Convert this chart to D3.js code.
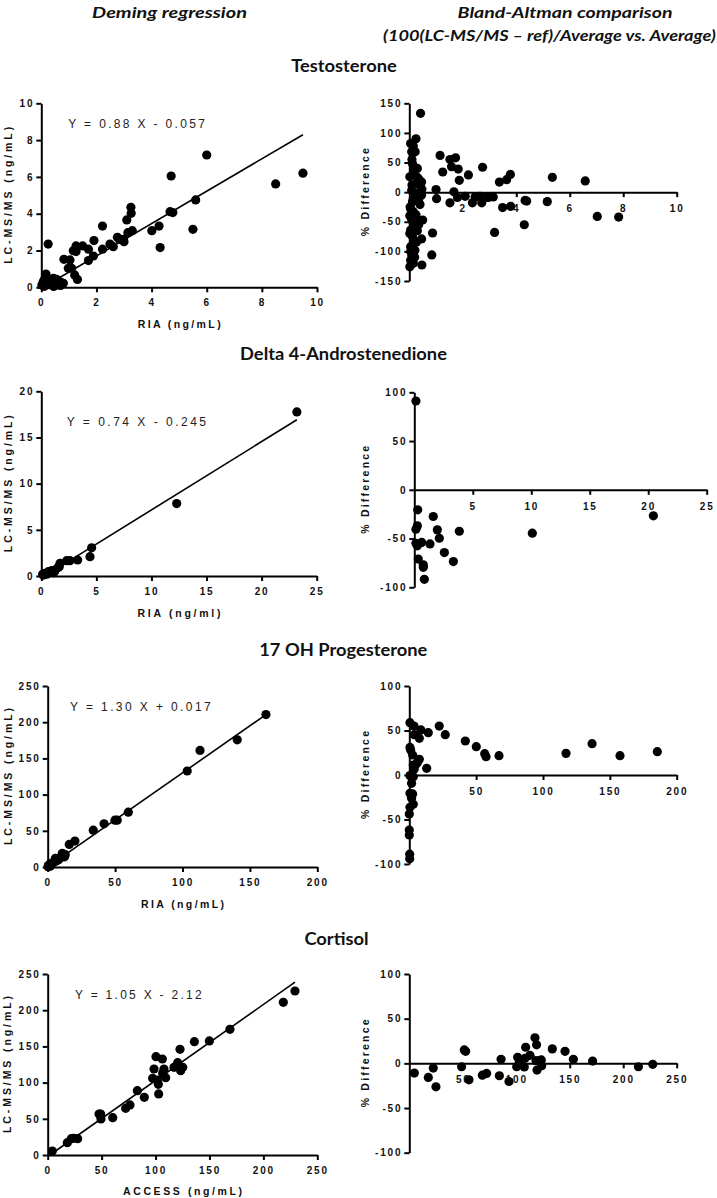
<!DOCTYPE html>
<html><head><meta charset="utf-8">
<script src="https://cdn.jsdelivr.net/npm/d3@7"></script>
<style>
body{margin:0;background:#fff}
svg{display:block}
.tick text{font-family:"Liberation Sans",Arial,sans-serif;font-weight:bold;font-size:10px;letter-spacing:1.8px;fill:#111}
.axlab{font-family:"Liberation Sans",Arial,sans-serif;font-weight:bold;font-size:10.5px;fill:#111}
.eq{font-family:"Liberation Sans",Arial,sans-serif;font-size:12px;fill:#222}
.title{font-family:Lato,"Open Sans",sans-serif;font-weight:bold;font-size:17px;fill:#111}
.head{font-family:Lato,"Open Sans",sans-serif;font-weight:bold;font-style:italic;font-size:16px;fill:#111}
</style></head><body>
<svg id="c" width="717" height="1198"></svg>
<script>
// ---------- DATA ----------
const testoDeming = [[0.25,2.35],[0.82,1.52],[1.04,1.49],[1.16,1.99],[1.26,2.25],[1.26,1.94],[1.5,2.25],[1.71,2.07],[1.71,1.45],[1.91,2.54],[1.89,1.70],[2.22,3.33],[2.22,2.07],[2.49,2.35],[2.61,2.21],[2.76,2.72],[2.83,2.61],[2.98,2.61],[3.0,2.48],[3.1,3.66],[3.14,2.97],[3.25,4.35],[3.26,4.02],[3.3,3.08],[4.01,3.08],[4.27,3.33],[4.31,2.16],[4.67,4.11],[4.71,6.05],[4.77,4.06],[5.5,3.15],[5.6,4.75],[6.0,7.19],[8.5,5.62],[9.49,6.2],[0.98,1.03],[1.1,1.03],[1.21,0.67],[1.31,0.43],[0.17,0.72],[0.07,0.3],[0.3,0.3],[0.44,0.49],[0.56,0.43],[0.68,0.3],[0.8,0.22],[0.2,0.13],[0.02,0.13],[0.38,0.13],[0.62,0.13],[0.5,0.22],[0.25,0.22],[0.1,0.05],[0.45,0.05],[0.7,0.1],[0.35,0.4],[0.12,0.45]];
const testoBA = [[0.42,133],[0.25,90],[0.05,82],[0.15,78],[0.22,68],[0.09,68],[0.12,48],[0.17,35],[0.02,26],[0.37,21],[0.46,17],[0.27,15],[0.42,9],[0.47,5],[0.09,3],[0.46,-5],[0.21,-8],[0.12,-16],[0.40,-21],[0.05,-28],[0.15,-33],[0.02,-40],[0.50,-47],[0.30,-46],[0.15,-53],[0.21,-60],[0.05,-64],[0.02,-70],[0.46,-79],[0.27,-84],[0.15,-87],[0.05,-92],[0.21,-98],[0.09,-106],[0.05,-115],[0.15,-120],[0.02,-126],[0.47,-123],[0.87,-69],[0.84,-106],[1.00,4.5],[1.02,-11],[1.15,62],[1.25,34],[1.52,55],[1.58,43],[1.73,58],[1.83,39],[1.87,20],[1.67,0.6],[1.52,-18],[1.80,-9],[2.21,29],[2.09,-7],[2.36,-18],[2.46,-8],[2.64,-7],[2.74,42],[2.71,-18],[2.86,-9],[2.96,-9],[3.14,-8],[3.19,-68],[3.37,17],[3.49,-26],[3.64,21],[3.78,30],[3.79,-24],[4.30,-55],[4.33,-14],[4.39,-15],[5.16,-16],[5.35,25],[6.58,19],[7.03,-41],[7.83,-42],[0.1,55],[0.3,25],[0.2,-2],[0.35,-12],[0.08,-45],[0.25,-38],[0.12,-75],[0.3,-65],[0.05,-100],[0.2,-110],[0.35,-55],[0.1,12],[0.3,40],[0.03,-25]];

const deltaDeming = [[0.12,0.18],[0.2,0.1],[0.33,0.29],[0.5,0.2],[0.64,0.47],[0.8,0.4],[0.94,0.58],[1.09,0.36],[1.2,0.45],[1.24,0.65],[1.5,0.9],[1.63,1.0],[1.7,1.37],[2.3,1.66],[2.6,1.66],[3.3,1.73],[4.42,2.09],[4.57,3.06],[12.29,7.84],[23.2,17.77]];
const deltaBA = [[0.14,91.1],[20.44,-26.7],[10.09,-44.5],[0.29,-20.5],[1.62,-27.4],[1.97,-41.1],[2.14,-49.7],[3.85,-42.5],[0.26,-37],[0.14,-40.4],[0.63,-54],[0.26,-57.5],[1.34,-55.5],[0.14,-54.8],[2.57,-64.4],[3.34,-73.6],[0.34,-71],[0.77,-77],[0.77,-79.5],[0.86,-91.8]];

const ohpDeming = [[0.7,1.4],[1.7,4],[3,5],[4,6],[5.7,12],[7.4,9.6],[10.8,19],[12.5,14],[16,31.2],[20.2,35.8],[33.8,50.9],[41.8,59.7],[49.9,64.7],[51.6,64.7],[59.8,75.7],[103.5,132.6],[113,161],[140.6,175.7],[161.9,210.6],[0.3,0.5],[0.5,2],[1.0,0.8],[1.5,2.5],[2.0,1.5],[2.5,3.5],[6,8],[8,10],[9,12],[11,15],[13,17]];
const ohpBA = [[0.5,58.8],[3.5,55],[3.7,45.3],[8.7,50.6],[7.5,41.2],[14.2,47.6],[22.4,55],[26.9,45.3],[41.9,38.2],[50.1,31.8],[56.4,24],[57.4,20.6],[67.1,21.7],[117.2,24.3],[136.7,35.2],[157.6,21.7],[185.5,26.2],[0.5,31],[1,28],[2.5,22.5],[3,11.2],[5,12],[7.5,17.6],[6,13.9],[3.7,6.7],[13,7.5],[0.5,-0.7],[3,-1.9],[1.7,-9.4],[0.5,-20.6],[2.5,-21.3],[1.7,-26.2],[3,-33],[0.5,-36.3],[0,-43.8],[0,-61.8],[0,-67.4],[0.3,-89],[0.3,-94]];

const cortDeming = [[4.3,5.5],[18.2,17],[21.9,22.6],[23.8,23],[27.8,22.6],[47.6,56.6],[49.1,56.6],[49.4,49.7],[60.3,51.6],[72.3,64.5],[76.3,69.1],[83.1,88.9],[89.6,79.7],[97.3,105.9],[98.6,118.8],[100.4,135.8],[101.7,103.6],[102.6,97.6],[102.9,84.3],[106.3,132.6],[106.6,112.8],[107.8,118.8],[109.4,106.8],[117.1,121.1],[120.5,127.5],[122.7,145.9],[123.3,116.5],[125.2,121.1],[136,156.5],[149.9,157.5],[169,173.6],[218.5,210.9],[229.3,226.5]];
const cortBA = [[4.7,-10.9],[17.8,-15.8],[22.4,-5.3],[24.9,-26.3],[48.9,-3.8],[51.4,15],[52.7,13.5],[55.8,-18.4],[68.3,-13.2],[72.3,-11.3],[84.2,-13.9],[85.8,4.5],[93.2,-20.3],[100.4,-3.8],[101.3,6.8],[102.9,1.1],[107.5,-4.1],[108.2,5.6],[108.8,18],[112.8,9],[117.5,28.6],[118.5,3],[119,20.7],[119.4,-7.5],[122.2,3],[123.4,3.8],[123.8,-2.6],[133.7,16.2],[145.6,13.5],[153.4,4.5],[171.4,2.6],[214.2,-3.8],[227.6,-1.1]];

const slopes = [0.88, 0.74, 1.30, 1.05];
const intercepts = [-0.057, -0.245, 0.017, -2.12];
const equations = ["Y = 0.88 X - 0.057", "Y = 0.74 X - 0.245", "Y = 1.30 X + 0.017", "Y = 1.05 X - 2.12"];
const analytes = ["Testosterone", "Delta 4-Androstenedione", "17 OH Progesterone", "Cortisol"];
const xLabels = ["RIA (ng/mL)", "RIA (ng/ml)", "RIA (ng/mL)", "ACCESS (ng/mL)"];
const yLabelLeft = "LC-MS/MS (ng/mL)";
const yLabelRight = "% Difference";
const headers = ["Deming regression", "Bland-Altman comparison", "(100(LC-MS/MS \u2013 ref)/Average vs. Average)"];
const demingXTicks = [[0,2,4,6,8,10],[0,5,10,15,20,25],[0,50,100,150,200],[0,50,100,150,200,250]];
const demingYTicks = [[0,2,4,6,8,10],[0,5,10,15,20],[0,50,100,150,200,250],[0,50,100,150,200,250]];
const baXTicks = [[2,4,6,8,10],[5,10,15,20,25],[50,100,150,200],[50,100,150,200,250]];
const baYTicks = [[-150,-100,-50,0,50,100,150],[-100,-50,0,50,100],[-100,-50,0,50,100],[-100,-50,0,50,100]];
const demingXMax = [10,25,200,250], demingYMax = [10,20,250,250];
const baXMax = [10,25,200,250], baYRange = [150,100,100,100];

// ---------- LAYOUT ----------
const leftBoxes = [
  {l:41.3,r:317,t:103.3,b:287.3,eqx:68.3,eqy:127.5,eqw:136.7,xl:327.5,yl:8.5},
  {l:41.3,r:316.7,t:391.3,b:576,eqx:66.7,eqy:426,eqw:139.3,xl:616.5,yl:8.5},
  {l:47.7,r:317.3,t:686,b:867,eqx:70,eqy:711,eqw:140.7,xl:908,yl:8.5},
  {l:47.7,r:317.3,t:974,b:1155,eqx:75,eqy:999,eqw:126.7,xl:1195,yl:7.5}
];
const xLabelW = [83, 83, 83, 119];
const rightBoxes = [
  {l:409.3,r:676.7,t:103.3,b:281},
  {l:414.3,r:706.7,t:392.3,b:587.3},
  {l:409.3,r:676.7,t:686,b:864},
  {l:409.3,r:676.7,t:974,b:1152.7}
];
const titlePos = [[344,72],[343.5,360],[343.3,656],[336.5,945]];
const headPos = [[169.5,18,155],[565,18,215],[549.5,41,333]];
const demingData = [testoDeming, deltaDeming, ohpDeming, cortDeming];
const baData = [testoBA, deltaBA, ohpBA, cortBA];

const svg = d3.select("#c");
const R = 4.6;

function styleAxis(g){
  g.select(".domain").attr("stroke","#000").attr("stroke-width",2);
  g.selectAll(".tick line").attr("stroke","#000").attr("stroke-width",2);
}
// text stretched horizontally to a given width (the reference glyphs are wide)
function stretchedText(cls, str, cx, base, width){
  const g = svg.append("g");
  const t = g.append("text").attr("class",cls).attr("text-anchor","middle").text(str);
  const w = t.node().getComputedTextLength();
  g.attr("transform",`translate(${cx},${base}) scale(${(width/w).toFixed(4)},1)`);
  return t;
}

headers.forEach((h,i)=> stretchedText("head", h, headPos[i][0], headPos[i][1], headPos[i][2]));

// section titles share one horizontal stretch, fitted on the longest title
const probe = svg.append("text").attr("class","title").text(analytes[1]);
const titleSx = 207/probe.node().getComputedTextLength();
probe.remove();

analytes.forEach((name,i)=>{
  svg.append("g").attr("transform",`translate(${titlePos[i][0]},${titlePos[i][1]}) scale(${titleSx.toFixed(4)},1)`)
    .append("text").attr("class","title").attr("text-anchor","middle").text(name);

  // ---- Deming panel ----
  const bx = leftBoxes[i];
  const x = d3.scaleLinear().domain([0,demingXMax[i]]).range([bx.l,bx.r]);
  const y = d3.scaleLinear().domain([0,demingYMax[i]]).range([bx.b,bx.t]);
  const g = svg.append("g");
  const xa = g.append("g").attr("transform",`translate(0,${bx.b})`)
    .call(d3.axisBottom(x).tickValues(demingXTicks[i]).tickSize(5).tickSizeOuter(0).tickPadding(7).tickFormat(d=>String(d)));
  styleAxis(xa);
  const ya = g.append("g").attr("transform",`translate(${bx.l},0)`)
    .call(d3.axisLeft(y).tickValues(demingYTicks[i]).tickSize(5).tickSizeOuter(0).tickPadding(2).tickFormat(d=>String(d)));
  styleAxis(ya);
  const ext = d3.extent(demingData[i], d=>d[0]);
  g.append("line").attr("x1",x(ext[0])).attr("y1",y(slopes[i]*ext[0]+intercepts[i]))
    .attr("x2",x(ext[1])).attr("y2",y(slopes[i]*ext[1]+intercepts[i]))
    .attr("stroke","#000").attr("stroke-width",1.6);
  g.selectAll("circle").data(demingData[i]).join("circle")
    .attr("cx",d=>x(d[0])).attr("cy",d=>y(d[1])).attr("r",R).attr("fill","#000");
  g.append("text").attr("class","eq").attr("x",bx.eqx).attr("y",bx.eqy)
    .attr("textLength",bx.eqw).attr("lengthAdjust","spacing").text(equations[i]);
  g.append("text").attr("class","axlab").attr("x",(bx.l+bx.r)/2 - xLabelW[i]/2).attr("y",bx.xl)
    .attr("textLength",xLabelW[i]).attr("lengthAdjust","spacing").text(xLabels[i]);
  g.append("text").attr("class","axlab").attr("transform",`translate(${bx.yl},${(bx.t+bx.b)/2}) rotate(-90)`)
    .attr("x",-68.5).attr("textLength",137).attr("lengthAdjust","spacing")
    .attr("dy","0.35em").text(yLabelLeft);

  // ---- Bland-Altman panel ----
  const rb = rightBoxes[i];
  const x2 = d3.scaleLinear().domain([0,baXMax[i]]).range([rb.l,rb.r]);
  const y2 = d3.scaleLinear().domain([-baYRange[i],baYRange[i]]).range([rb.b,rb.t]);
  const g2 = svg.append("g");
  const xa2 = g2.append("g").attr("transform",`translate(0,${y2(0)})`)
    .call(d3.axisBottom(x2).tickValues(baXTicks[i]).tickSize(5).tickSizeOuter(0).tickPadding(8).tickFormat(d=>String(d)));
  styleAxis(xa2);
  const ya2 = g2.append("g").attr("transform",`translate(${rb.l},0)`)
    .call(d3.axisLeft(y2).tickValues(baYTicks[i]).tickSize(5).tickSizeOuter(0).tickPadding(2).tickFormat(d=>String(d)));
  styleAxis(ya2);
  g2.selectAll("circle").data(baData[i]).join("circle")
    .attr("cx",d=>x2(d[0])).attr("cy",d=>y2(d[1])).attr("r",R).attr("fill","#000");
  g2.append("text").attr("class","axlab")
    .attr("transform",`translate(365,${(rb.t+rb.b)/2}) rotate(-90)`)
    .attr("x",-44).attr("textLength",88).attr("lengthAdjust","spacing")
    .attr("dy","0.35em").text(yLabelRight);
});
</script>
</body></html>
